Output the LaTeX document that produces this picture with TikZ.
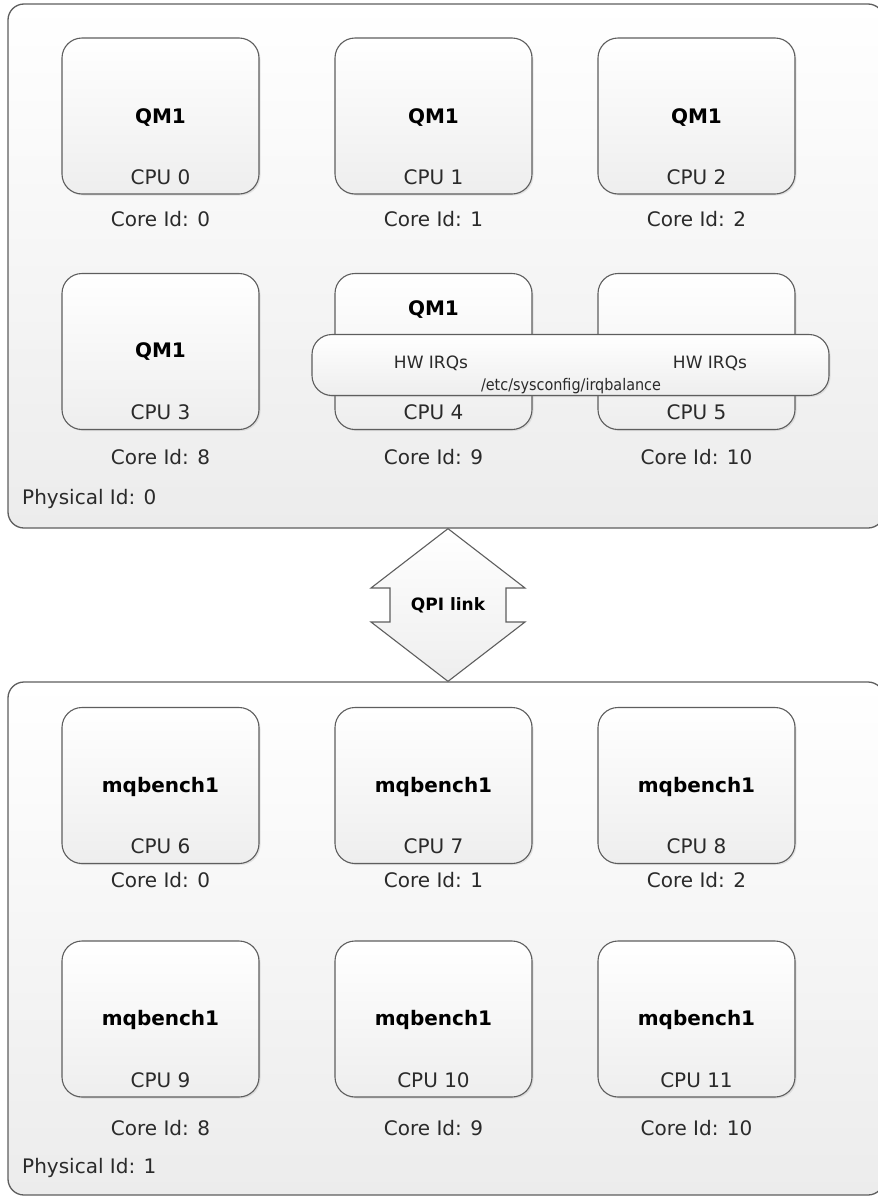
\documentclass[tikz,border=0pt]{standalone}
\usepackage{fontspec}
\setmainfont{DejaVu Sans}
\newfontfamily\condfont{DejaVu Sans Condensed}
\usetikzlibrary{shadows}
\definecolor{linegray}{HTML}{5E5E5E}
\definecolor{panelbot}{HTML}{ECECEC}
\definecolor{boxbot}{HTML}{EEEEEE}
\definecolor{txtgray}{HTML}{2A2A2A}
\begin{document}
\begin{tikzpicture}[x=1pt,y=-1pt,
  panel/.style={draw=linegray, line width=1.3pt, rounded corners=16pt,
    top color=white, bottom color=panelbot, inner sep=0pt},
  cpubox/.style={draw=linegray, line width=1.1pt, rounded corners=20pt,
    top color=white, bottom color=boxbot, inner sep=0pt,
    minimum width=197pt, minimum height=156pt,
    drop shadow={shadow xshift=1.5pt, shadow yshift=-1.5pt, opacity=0.18}},
  band/.style={draw=linegray, line width=1.1pt, rounded corners=20pt,
    top color=white, bottom color=boxbot, inner sep=0pt,
    drop shadow={shadow xshift=1.5pt, shadow yshift=-1.5pt, opacity=0.18}},
  pname/.style={font=\bfseries\fontsize{20}{24}\selectfont, text=black, inner sep=0pt},
  plabel/.style={font=\fontsize{20}{24}\selectfont, text=txtgray, inner sep=0pt},
  irqlabel/.style={font=\fontsize{17}{20}\selectfont, text=txtgray, inner sep=0pt},
  pathlabel/.style={font=\condfont\fontsize{16}{19}\selectfont, text=txtgray, inner sep=0pt},
  linkarrow/.style={draw=linegray, line width=1.1pt, top color=white, bottom color=boxbot},
  linklabel/.style={font=\bfseries\fontsize{17}{20}\selectfont, text=black, inner sep=0pt}]
\useasboundingbox (0,0) rectangle (878,1197);
\clip (0,0) rectangle (878,1197);
\fill[white] (0,0) rectangle (878,1197);

% the two sockets
\node[panel, minimum width=876pt, minimum height=524pt] (sock0) at (446,266) {};
\node[panel, minimum width=876pt, minimum height=513pt] (sock1) at (446,938.5) {};

% socket 0 cores
\foreach \n/\x/\y/\cpu/\core/\cy in {
    c0/160.5/116/0/0/219, c1/433.5/116/1/1/219, c2/696.5/116/2/2/219,
    c3/160.5/351.5/3/8/457, c4/433.5/351.5/4/9/457, c5/696.5/351.5/5/10/457} {
  \node[cpubox] (\n) at (\x,\y) {};
  \node[plabel] (\n cpu) at (\x,\y+61) {CPU \cpu};
  \node[plabel] (\n core) at (\x,\cy) {Core Id: \core};
}
\node[pname] (c0name) at (c0) [yshift=-2pt] {QM1};
\node[pname] (c1name) at (c1) [yshift=-2pt] {QM1};
\node[pname] (c2name) at (c2) [yshift=-2pt] {QM1};
\node[pname] (c3name) at (c3) {QM1};
\node[pname] (c4name) at (433.5,310) {QM1};

% interrupt band across CPU 4 and CPU 5
\node[band, minimum width=517pt, minimum height=61pt] (irq) at (570.5,365) {};
\node[irqlabel] (irq4) at (431,363) {HW IRQs};
\node[irqlabel] (irq5) at (710,363) {HW IRQs};
\node[pathlabel] (irqcfg) at (571,386) {/etc/sysconfig/irqbalance};

\node[plabel, anchor=west] (phys0) at (22,499) {Physical Id: 0};

% socket 1 cores
\foreach \n/\x/\y/\cpu/\core/\cy in {
    d0/160.5/785.5/6/0/880, d1/433.5/785.5/7/1/880, d2/696.5/785.5/8/2/880,
    d3/160.5/1019/9/8/1128, d4/433.5/1019/10/9/1128, d5/696.5/1019/11/10/1128} {
  \node[cpubox] (\n) at (\x,\y) {};
  \node[pname] (\n name) at (\x,\y+1) {mqbench1};
  \node[plabel] (\n cpu) at (\x,\y+61) {CPU \cpu};
  \node[plabel] (\n core) at (\x,\cy) {Core Id: \core};
}
\node[plabel, anchor=west] (phys1) at (22,1168) {Physical Id: 1};

% QPI link between the sockets
\coordinate (qtop) at (sock0.south -| 448,0);
\coordinate (qbot) at (sock1.north -| 448,0);
\draw[linkarrow] (qtop) -- (525,588) -- (506,588) -- (506,622) -- (525,622)
  -- (qbot) -- (371,622) -- (390,622) -- (390,588) -- (371,588) -- cycle;
\node[linklabel] (qpi) at (448,605) {QPI link};
\end{tikzpicture}
\end{document}
